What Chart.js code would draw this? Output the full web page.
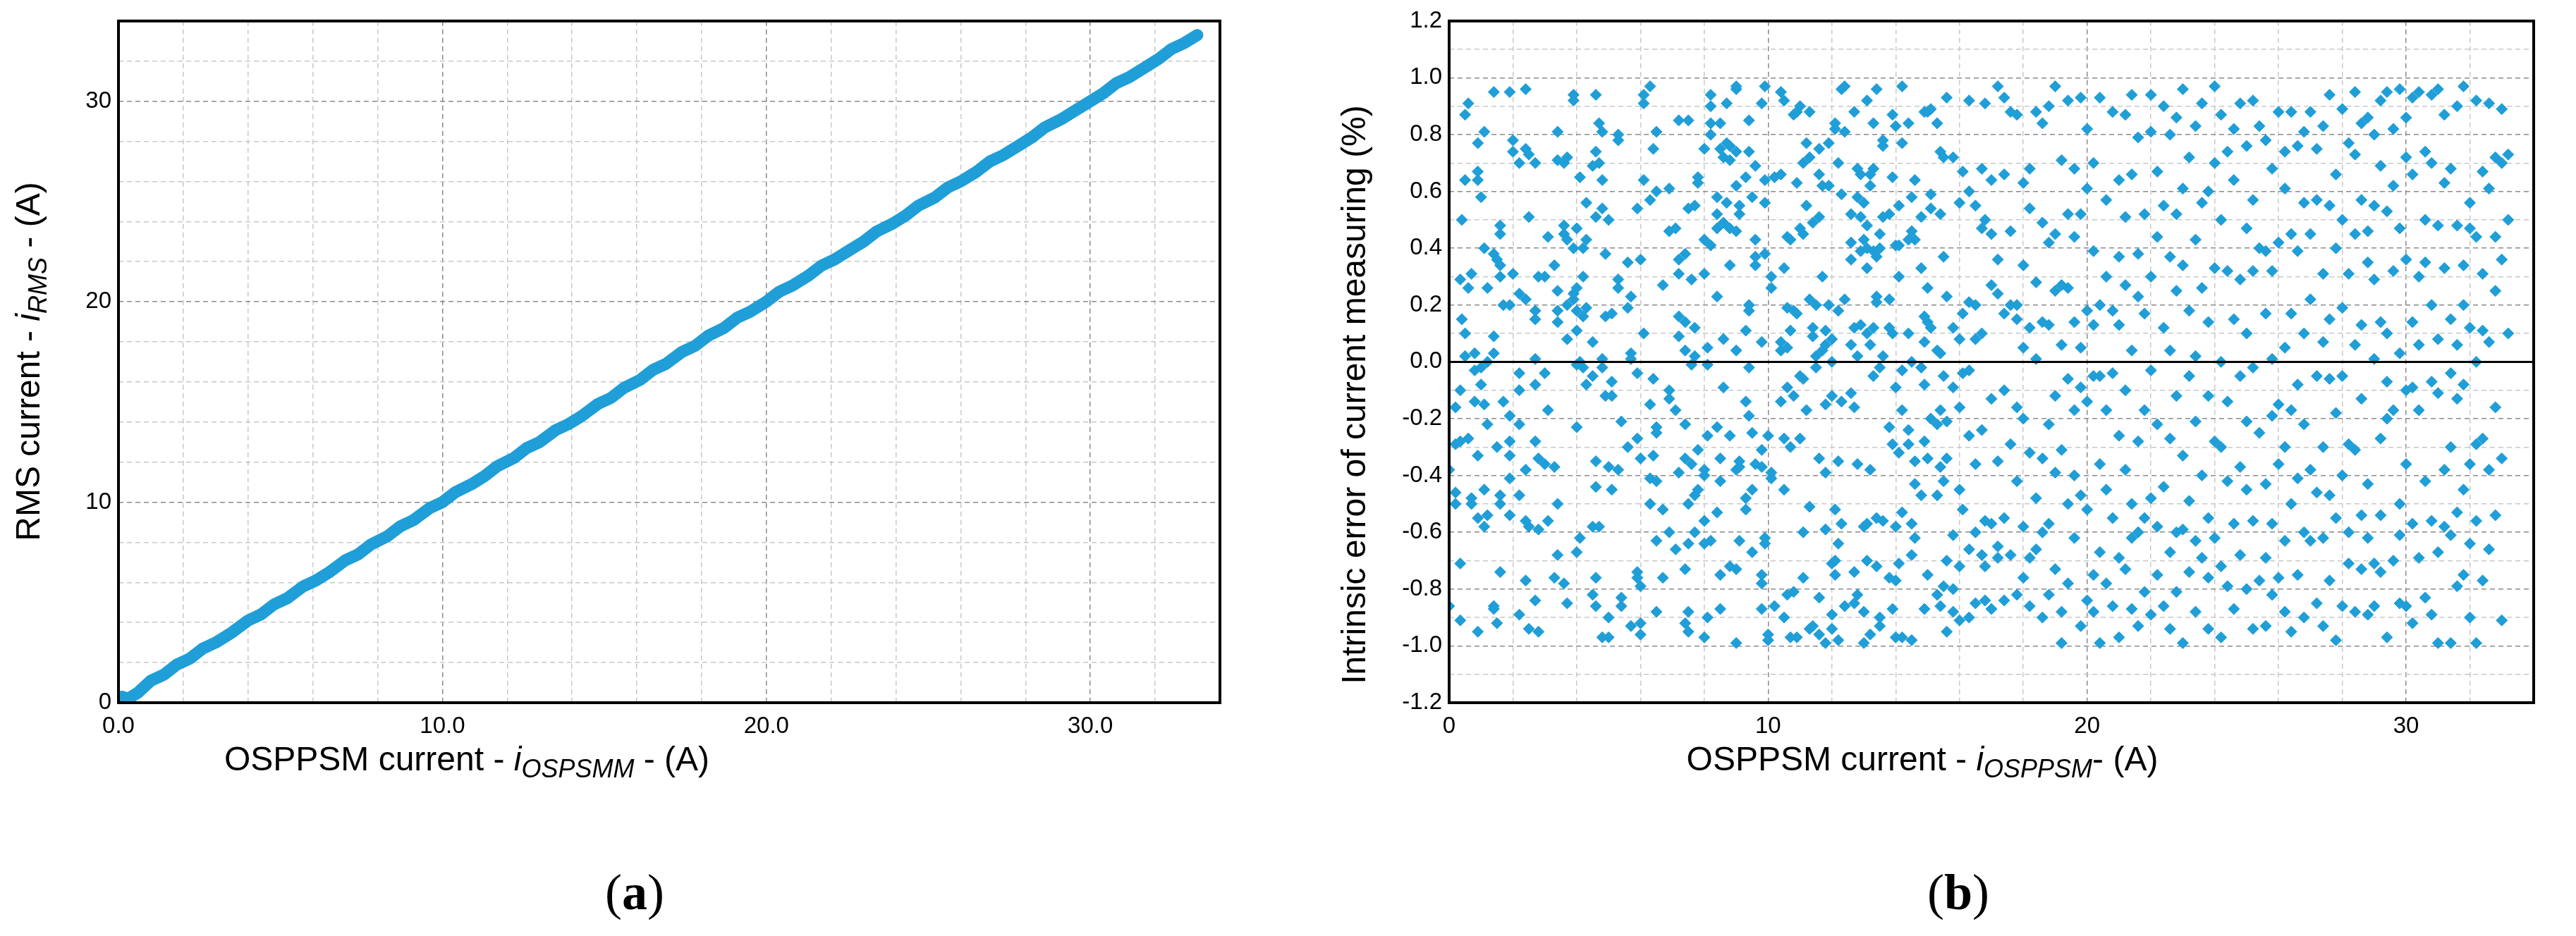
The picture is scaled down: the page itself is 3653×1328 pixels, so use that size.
<!DOCTYPE html>
<html>
<head>
<meta charset="utf-8">
<script src="https://cdn.jsdelivr.net/npm/chart.js@4.4.1/dist/chart.umd.min.js"></script>
<style>
  body { margin: 0; background: #fff; width: 3653px; height: 1328px; overflow: hidden; position: relative; }
  .box { position: absolute; top: 0; height: 1328px; }
  .cap { position: absolute; top: 1225px; font-family: "Liberation Serif", serif; font-size: 72px; transform: translateX(-50%); }
</style>
</head>
<body>
<div class="box" style="left:0;width:1780px"><canvas id="rms"></canvas></div>
<div class="box" style="left:1780px;width:1873px"><canvas id="err"></canvas></div>
<div class="cap" style="left:900px">(<b>a</b>)</div>
<div class="cap" style="left:2777px">(<b>b</b>)</div>
<script>
// (a) RMS current vs OSPPSM current
const rmsX = [0.1,0.3,0.6,1.0,1.4,1.8,2.2,2.6,3.0,3.5,4.0,4.4,4.8,5.2,5.7,6.1,6.5,7.0,7.4,7.8,8.3,8.7,9.1,9.6,10.0,10.4,10.9,11.3,11.7,12.2,12.6,13.0,13.5,13.9,14.3,14.8,15.2,15.6,16.1,16.5,16.9,17.4,17.8,18.2,18.7,19.1,19.5,20.0,20.4,20.8,21.3,21.7,22.1,22.6,23.0,23.4,23.9,24.3,24.7,25.2,25.6,26.0,26.5,26.9,27.3,27.8,28.2,28.6,29.1,29.5,29.9,30.4,30.8,31.2,31.7,32.1,32.5,32.9,33.3];
const rmsY = [0.3,0.2,0.5,1.1,1.4,1.9,2.2,2.7,3.0,3.5,4.1,4.4,4.9,5.2,5.8,6.1,6.5,7.1,7.4,7.9,8.3,8.8,9.1,9.7,10.0,10.5,10.9,11.3,11.8,12.2,12.7,13.0,13.6,13.9,14.3,14.9,15.2,15.7,16.1,16.6,16.9,17.5,17.8,18.3,18.7,19.2,19.5,20.0,20.5,20.8,21.3,21.8,22.1,22.6,23.0,23.5,23.9,24.3,24.8,25.2,25.7,26.0,26.5,27.0,27.3,27.8,28.2,28.7,29.1,29.5,29.9,30.4,30.9,31.2,31.7,32.1,32.6,32.9,33.3];

// (b) intrinsic error, columns of [current, [errors %]]
const errColumns = [
[0,[-0.86,-0.38]],[0.2,[-0.16,-0.29,-0.46,-0.5]],[0.35,[0.29,-0.10,-0.91,-0.71,-0.28]],[0.4,[0.5,0.15]],
[0.5,[0.87,0.10,0.02,0.64]],[0.6,[0.91,0.26,-0.27]],[0.7,[0.31,-0.48,-0.5]],[0.8,[0.03,-0.03,-0.14]],
[0.9,[0.77,0.64,0.67,-0.55,-0.95,-0.33]],[1.0,[0.58,-0.02,-0.08]],[1.1,[0.81,0.4,-0.45,-0.58,-0.15]],
[1.2,[0.26,0.0,-0.22,-0.54]],[1.4,[0.95,0.38,0.09,0.03,-0.86,-0.87]],[1.5,[0.36,-0.92,-0.3]],
[1.6,[0.48,0.45,0.34,0.3,-0.47,-0.5,-0.74]],[1.7,[0.2,-0.14]],[1.9,[0.95,0.2,-0.19,-0.41,-0.54,-0.28,-0.33]],
[2.0,[0.78,0.74,0.31]],[2.2,[0.7,0.24,-0.04,-0.1,-0.22,-0.47,-0.89]],[2.4,[0.96,0.75,0.22,-0.38,-0.56,-0.77]],
[2.5,[0.51,0.73,-0.94,-0.58]],[2.7,[0.7,0.18,0.15,0.01,-0.08,-0.28,-0.84]],[2.8,[0.3,-0.34,-0.59,-0.95]],
[3.0,[0.3,-0.04,-0.36]],[3.1,[0.44,-0.17,-0.56]],[3.3,[0.34,-0.37,-0.76]],[3.4,[0.81,0.71,0.25,0.18,0.14,-0.68,-0.5]],
[3.6,[0.48,0.45,0.7,-0.78]],[3.7,[0.72,0.43,0.2,0.08,-0.85]],[3.9,[0.94,0.92,0.4,0.24,0.22]],
[4.0,[0.47,0.26,0.18,0.11,-0.01,-0.23,-0.67]],[4.1,[0.65,0.0,-0.62]],[4.2,[0.3,0.4,0.16,-0.02]],
[4.3,[0.56,0.43,0.19,-0.08]],[4.5,[0.69,0.07,-0.05,-0.58,-0.82]],[4.6,[0.94,0.74,0.51,-0.35,-0.44,-0.76,-0.86]],
[4.7,[0.84,0.7,-0.58]],[4.8,[0.81,0.64,0.54,0.01,-0.02,-0.97]],[4.9,[0.38,0.16,-0.12]],[5.0,[0.5,-0.37,-0.97,-0.9]],
[5.1,[0.17,-0.07,-0.12,-0.45]],[5.3,[0.8,0.78,0.29,0.26,-0.38]],[5.4,[-0.21,-0.86,-0.83]],[5.6,[0.35,0.19,-0.3]],
[5.7,[0.23,0.03,0.01,-0.93]],[5.9,[0.54,-0.04,-0.27,-0.74,-0.76]],[6.0,[0.36,-0.34,-0.79,-0.92,-0.96]],
[6.1,[0.94,0.91,0.64,0.1]],[6.3,[0.97,0.57,-0.15,-0.41,-0.5]],[6.4,[0.75,-0.06,-0.33]],
[6.5,[0.81,0.6,-0.23,-0.25,-0.42,-0.63,-0.88]],[6.7,[0.27,-0.52,-0.76]],[6.9,[0.61,0.46,-0.1,-0.13,-0.6]],
[7.1,[0.47,-0.17,-0.66]],[7.2,[0.85,0.36,0.31,0.16,0.09,-0.39]],[7.4,[0.38,0.14,0.04,-0.22,-0.34,-0.73,-0.92]],
[7.5,[0.85,0.54,-0.5,-0.64,-0.88,-0.95]],[7.6,[0.29,-0.01,-0.36]],[7.7,[0.55,0.12,0.02,-0.6,-0.47]],
[7.8,[0.65,0.63,-0.31,-0.45]],[8.0,[0.75,0.43,0.31,-0.4,-0.38,-0.56,-0.64,-0.97]],[8.1,[0.05,-0.01,-0.26,-0.9]],
[8.2,[0.94,0.9,0.84,0.41,0.8,-0.63]],[8.4,[0.58,0.52,0.47,0.23,-0.23,-0.53]],[8.5,[0.84,0.75,-0.34,-0.42,-0.75,-0.87]],
[8.6,[0.72,0.49,0.08,-0.09]],[8.7,[0.91,0.77,0.56]],[8.8,[0.76,0.71,0.47,0.34,-0.26,-0.72]],
[9.0,[0.97,0.96,0.74,0.62,0.46,0.04,-0.38,-0.73,-0.99]],[9.1,[0.55,0.52,-0.37,-0.35,-0.63]],
[9.3,[0.65,0.11,-0.14,-0.52,-0.48]],[9.4,[0.85,0.74,0.2,0.18,-0.02,-0.19]],[9.5,[0.58,-0.25,-0.45,-0.67]],
[9.6,[0.69,0.37,0.34,0.43,-0.36]],[9.8,[0.91,0.07,-0.37,-0.31,-0.75,-0.78,-0.87]],[9.9,[0.97,0.64,0.56,0.38,-0.64,-0.62]],
[10.0,[-0.26,-0.96,-0.98]],[10.1,[0.3,0.26,-0.39,-0.41]],[10.2,[0.65,-0.86]],[10.4,[0.95,0.66,0.07,0.04,-0.14]],
[10.5,[0.92,0.33,-0.27,-0.45,-0.9]],[10.6,[0.44,0.19,0.05,-0.09,-0.82]],[10.7,[0.43,0.11,-0.3,-0.97]],
[10.8,[0.87,0.18,-0.12,-0.81]],[10.9,[0.88,0.63,0.17,-0.97]],[11.0,[0.9,0.47,-0.05,-0.27]],
[11.1,[0.7,0.45,-0.06,-0.6,-0.76]],[11.2,[0.77,0.55,-0.17]],[11.3,[0.88,0.72,0.22,-0.51,-0.94]],
[11.4,[0.12,0.09,0.49,-0.93]],[11.5,[0.2,0.02,-0.02]],[11.6,[0.75,0.66,0.51,-0.34,-0.83,-0.96]],
[11.7,[0.3,0.62,0.04]],[11.8,[0.11,0.06,-0.15,-0.39,-0.59,-0.99]],[11.9,[0.77,0.62,0.2]],
[12.0,[0.08,0.0,-0.12,-0.71,-0.89,-0.94]],[12.1,[0.84,0.82,-0.52,-0.75,-0.7]],[12.2,[0.7,0.18,-0.35,-0.64,-0.98]],
[12.3,[0.96,0.59,-0.14,-0.57]],[12.4,[0.97,0.81,0.22,-0.86]],[12.6,[0.52,0.42,0.36,0.06,-0.11]],
[12.7,[0.88,0.12,-0.16,-0.74,-0.85]],[12.8,[0.68,0.58,0.02,-0.36,-0.82]],[12.9,[0.66,0.51,0.39,0.13]],
[13.0,[0.56,0.43,-0.58,-0.88,-0.99]],[13.1,[0.92,0.48,0.4,0.33,0.1,-0.57,-0.7]],[13.2,[0.66,0.62,0.06,-0.38,-0.96]],
[13.3,[0.84,0.68,0.39,0.12,-0.05]],[13.4,[0.96,0.37,0.23,0.21,-0.72,-0.55]],[13.5,[0.45,0.4,-0.02,-0.93,-0.9]],
[13.6,[0.78,0.76,0.51,0.02,-0.56]],[13.8,[0.52,0.22,0.12,-0.23,-0.76]],[13.9,[0.87,0.65,0.1,-0.29,-0.87]],
[14.0,[0.83,0.41,-0.09,-0.58,-0.77,-0.97]],[14.1,[0.55,0.41,0.3,-0.32,-0.71]],[14.2,[0.97,0.77,-0.03,-0.17,-0.53,-0.97]],
[14.4,[0.84,0.43,0.1,-0.24,-0.29]],[14.5,[0.58,0.46,0.0,-0.57,-0.68,-0.98]],[14.6,[0.64,0.43,-0.35,-0.43,-0.62]],
[14.8,[0.51,0.33,-0.02,-0.47]],[14.9,[0.88,0.16,0.07,-0.08,-0.28,-0.87]],[15.0,[0.88,0.26,0.14,-0.34,-0.75]],
[15.1,[0.89,0.59,0.54,0.12,-0.2]],[15.3,[0.84,0.04,-0.22,-0.47,-0.82]],[15.4,[0.74,0.52,0.03,-0.17,-0.37,-0.86]],
[15.5,[0.72,0.37,-0.05,-0.42,-0.79]],[15.6,[0.93,0.23,-0.21,-0.34,-0.7,-0.95]],[15.8,[0.72,0.12,-0.09,-0.61,-0.8,-0.88]],
[16.0,[0.56,0.08,-0.16,-0.45,-0.72,-0.91]],[16.1,[0.67,0.17,-0.04,-0.52]],[16.3,[0.92,0.6,0.21,-0.03,-0.26,-0.66,-0.9]],
[16.5,[0.55,0.2,0.08,-0.36,-0.6,-0.85]],[16.7,[0.68,0.47,0.1,-0.24,-0.68]],[16.8,[0.91,0.5,-0.56,-0.72,-0.84]],
[17.0,[0.64,0.45,0.27,-0.13,-0.57,-0.87]],[17.2,[0.97,0.36,0.24,-0.35,-0.65,-0.69]],[17.4,[0.93,0.66,0.17,-0.1,-0.55,-0.84]],
[17.6,[0.88,0.46,0.2,-0.29,-0.68]],[17.8,[0.87,0.2,0.15,-0.16,-0.42,-0.82]],[18.0,[0.63,0.34,0.05,-0.2,-0.58,-0.76]],
[18.2,[0.68,0.54,0.12,-0.32,-0.69,-0.86]],[18.4,[0.88,0.28,0.01,-0.48,-0.66]],[18.6,[0.84,0.49,0.14,-0.34,-0.6,-0.9]],
[18.8,[0.9,0.42,0.13,-0.22,-0.57,-0.82]],[19.0,[0.97,0.45,0.25,-0.12,-0.39,-0.73]],[19.2,[0.71,0.27,0.06,-0.31,-0.88,-0.99]],
[19.4,[0.92,0.52,0.26,-0.06,-0.5,-0.78]],[19.6,[0.68,0.44,0.14,-0.17,-0.4,-0.62]],[19.8,[0.93,0.52,0.05,-0.09,-0.47,-0.93]],
[20.0,[0.82,0.61,0.18,-0.14,-0.52,-0.84]],[20.2,[0.7,0.39,0.13,-0.05,-0.75,-0.88]],[20.4,[0.93,0.2,-0.05,-0.36,-0.67,-0.99]],
[20.6,[0.57,0.3,-0.17,-0.45,-0.78]],[20.8,[0.88,0.18,-0.04,-0.55,-0.86]],[21.0,[0.64,0.37,0.13,-0.26,-0.69,-0.97]],
[21.2,[0.87,0.51,0.27,-0.1,-0.38,-0.73]],[21.4,[0.94,0.66,0.04,-0.5,-0.62,-0.87]],[21.6,[0.79,0.38,0.23,-0.28,-0.6,-0.93]],
[21.8,[0.52,0.17,-0.17,-0.55,-0.81]],[22.0,[0.94,0.81,0.3,-0.03,-0.48,-0.89]],[22.2,[0.67,0.44,-0.22,-0.58,-0.75]],
[22.4,[0.9,0.55,0.12,-0.44,-0.86]],[22.6,[0.8,0.37,0.04,-0.27,-0.67,-0.94]],[22.8,[0.86,0.52,0.25,-0.12,-0.6,-0.81]],
[23.0,[0.96,0.61,0.34,-0.33,-0.59,-0.99]],[23.2,[0.72,0.18,-0.05,-0.49,-0.74]],[23.4,[0.83,0.43,0.02,-0.21,-0.63,-0.88]],
[23.6,[0.91,0.56,0.26,-0.4,-0.69]],[23.8,[0.6,0.14,-0.12,-0.55,-0.76,-0.94]],[24.0,[0.97,0.7,0.33,-0.28,-0.62]],
[24.2,[0.87,0.5,0.0,-0.3,-0.72,-0.97]],[24.4,[0.74,0.32,-0.14,-0.42,-0.79]],[24.6,[0.82,0.64,0.15,-0.57,-0.87]],
[24.8,[0.91,0.29,-0.05,-0.37,-0.68]],[25.0,[0.76,0.47,0.1,-0.21,-0.45,-0.8]],[25.2,[0.92,0.57,0.32,-0.02,-0.56,-0.94]],
[25.4,[0.83,0.4,-0.25,-0.77]],[25.6,[0.78,0.39,0.17,-0.43,-0.69,-0.93]],[25.8,[0.68,0.32,0.01,-0.19,-0.57,-0.82]],
[26.0,[0.88,0.42,-0.15,-0.36,-0.76]],[26.2,[0.74,0.61,0.05,-0.3,-0.63,-0.88]],[26.4,[0.88,0.45,0.17,-0.17,-0.5,-0.95]],
[26.6,[0.76,0.39,-0.08,-0.41,-0.75]],[26.8,[0.81,0.56,0.1,-0.22,-0.6,-0.9]],[27.0,[0.88,0.45,0.22,-0.38,-0.63]],
[27.2,[0.75,0.57,-0.05,-0.46,-0.85]],[27.4,[0.83,0.31,0.07,-0.3,-0.62,-0.93]],[27.6,[0.94,0.55,0.15,-0.06,-0.47,-0.77]],
[27.8,[0.66,0.4,-0.18,-0.55,-0.98]],[28.0,[0.89,0.5,0.19,-0.05,-0.4,-0.86]],[28.2,[0.77,0.31,-0.29,-0.6,-0.71]],
[28.4,[0.95,0.73,0.45,0.06,-0.31,-0.88]],[28.6,[0.84,0.57,0.13,-0.13,-0.54,-0.73]],[28.8,[0.86,0.46,0.35,-0.43,-0.62,-0.89]],
[29.0,[0.8,0.55,0.29,0.01,-0.71,-0.86]],[29.2,[0.92,0.69,0.14,-0.27,-0.54,-0.74]],[29.4,[0.95,0.53,0.1,-0.07,-0.2,-0.97]],
[29.6,[0.82,0.62,0.32,-0.17,-0.7]],[29.8,[0.96,0.47,0.03,-0.5,-0.61,-0.85]],[30.0,[0.86,0.72,0.36,-0.1,-0.36,-0.86]],
[30.2,[0.93,0.66,0.14,-0.09,-0.57,-0.92]],[30.4,[0.95,0.3,0.06,-0.17,-0.69]],[30.6,[0.74,0.5,0.35,-0.42,-0.83]],
[30.8,[0.94,0.7,0.2,-0.07,-0.56,-0.89]],[31.0,[0.96,0.48,0.08,-0.11,-0.67,-0.99]],[31.2,[0.87,0.63,0.33,-0.38,-0.58]],
[31.4,[0.68,0.15,-0.04,-0.3,-0.61,-0.99]],[31.6,[0.9,0.48,0.06,-0.13,-0.53,-0.79]],[31.8,[0.97,0.34,0.2,-0.08,-0.45,-0.75]],
[32.0,[0.56,0.47,0.12,-0.36,-0.64,-0.9]],[32.2,[0.92,0.44,0.0,-0.29,-0.56,-0.99]],[32.4,[0.67,0.31,0.11,-0.27,-0.77]],
[32.6,[0.91,0.61,0.07,-0.38,-0.66]],[32.8,[0.72,0.44,0.25,-0.16,-0.54]],[33.0,[0.89,0.7,0.36,-0.34,-0.91]],
[33.2,[0.73,0.5,0.1]]
];

const BLUE = "#1f9ed8";
const TICK_FONT = { family: "'Liberation Sans Narrow', 'Liberation Sans', Arial, sans-serif", size: 33 };

const errPoints = [];
errColumns.forEach(([x, ys]) => ys.forEach(y => errPoints.push({ x: x, y: y })));
const rmsPoints = rmsX.map((x, i) => ({ x: x, y: rmsY[i] }));

// draws frame, zero line and titles with italic subscripts
const decor = {
  id: "decor",
  afterDraw(chart, args, opts) {
    const { ctx, chartArea: a } = chart;
    ctx.save();
    if (opts.zeroLine) {
      const y0 = chart.scales.y.getPixelForValue(0);
      ctx.strokeStyle = "#000"; ctx.lineWidth = 3;
      ctx.beginPath(); ctx.moveTo(a.left, y0); ctx.lineTo(a.right, y0); ctx.stroke();
    }
    ctx.strokeStyle = "#000"; ctx.lineWidth = 4;
    ctx.strokeRect(a.left, a.top, a.right - a.left, a.bottom - a.top);
    ctx.fillStyle = "#000";
    drawRich(ctx, opts.xTitle, opts.xPos[0], opts.xPos[1], 0, opts.xFont);
    drawRich(ctx, opts.yTitle, opts.yPos[0], opts.yPos[1], -Math.PI / 2, opts.yFont);
    ctx.restore();
  }
};

function drawRich(ctx, parts, cx, cy, rot, family) {
  ctx.save();
  ctx.translate(cx, cy); ctx.rotate(rot);
  ctx.textBaseline = "alphabetic";
  const fonts = parts.map(p => p.sub ? "italic 36px " + family : (p.it ? "italic 48px " : "48px ") + family);
  let total = 0;
  const widths = parts.map((p, i) => { ctx.font = fonts[i]; const w = ctx.measureText(p.t).width; total += w; return w; });
  let x = -total / 2;
  parts.forEach((p, i) => {
    ctx.font = fonts[i];
    ctx.fillText(p.t, x, p.sub ? 26 : 16);
    x += widths[i];
  });
  ctx.restore();
}

function gridColor(major) {
  return c => (c.tick && Math.abs(c.tick.value % major) < 1e-6 || Math.abs(Math.abs(c.tick.value % major) - major) < 1e-6) ? "#8a8a8a" : "#c8c8c8";
}

function makeChart(id, datasets, xs, ys, dec, yWidth, padRight) {
  return new Chart(document.getElementById(id), {
    type: "scatter",
    data: { datasets: datasets },
    options: {
      responsive: true, maintainAspectRatio: false, animation: false,
      layout: { padding: { top: 23, right: padRight, bottom: 0, left: 0 } },
      plugins: { legend: { display: false }, tooltip: { enabled: false }, decor: dec },
      scales: {
        x: Object.assign({
          type: "linear", min: 0, max: 34,
          afterFit: s => { s.height = 331; },
          border: { display: false, dash: [7, 5] },
          grid: { color: gridColor(10), lineWidth: 1.5, drawTicks: false },
          ticks: Object.assign({ stepSize: 2, autoSkip: false, maxRotation: 0, color: "#000", font: TICK_FONT, padding: 14 }, xs.ticks)
        }),
        y: {
          type: "linear", min: ys.min, max: ys.max,
          afterFit: s => { s.width = yWidth; },
          border: { display: false, dash: [7, 5] },
          grid: { color: gridColor(ys.major), lineWidth: 1.5, drawTicks: false },
          ticks: Object.assign({ stepSize: ys.step, autoSkip: false, color: "#000", font: TICK_FONT, padding: 10 }, ys.ticks)
        }
      }
    },
    plugins: [decor]
  });
}

const near = (v, m) => Math.abs(v / m - Math.round(v / m)) < 1e-6;

makeChart("rms",
  [{ data: rmsPoints, showLine: true, borderColor: BLUE, borderWidth: 17, backgroundColor: BLUE,
     pointStyle: "rectRot", pointRadius: 0, borderCapStyle: "round", borderJoinStyle: "round" }],
  { ticks: { callback: v => near(v, 10) ? v.toFixed(1) : "" } },
  { min: 0, max: 34, step: 2, major: 10, ticks: { callback: v => near(v, 10) ? String(v) : "" } },
  { xTitle: [{ t: "OSPPSM current - " }, { t: "i", it: true }, { t: "OSPSMM", sub: true }, { t: " - (A)" }],
    xPos: [662, 1077], xFont: "'Liberation Sans Narrow', 'Liberation Sans', sans-serif",
    yTitle: [{ t: "RMS current - " }, { t: "i", it: true }, { t: "RMS", sub: true }, { t: " - (A)" }],
    yPos: [40, 513], yFont: "'Liberation Sans', Arial, sans-serif" },
  168, 50);

makeChart("err",
  [{ data: errPoints, backgroundColor: BLUE, borderColor: BLUE, pointStyle: "rectRot", pointRadius: 8 }],
  { ticks: { callback: v => near(v, 10) ? String(v) : "" } },
  { min: -1.2, max: 1.2, step: 0.1, major: 0.2, ticks: { callback: v => near(v, 0.2) ? v.toFixed(1) : "" } },
  { zeroLine: true,
    xTitle: [{ t: "OSPPSM current - " }, { t: "i", it: true }, { t: "OSPPSM", sub: true }, { t: "- (A)" }],
    xPos: [2726 - 1780, 1077], xFont: "'Liberation Sans Narrow', 'Liberation Sans', sans-serif",
    yTitle: [{ t: "Intrinsic error of current measuring (%)" }],
    yPos: [140, 560], yFont: "'Liberation Sans', Arial, sans-serif" },
  275, 60);
</script>
</body>
</html>
